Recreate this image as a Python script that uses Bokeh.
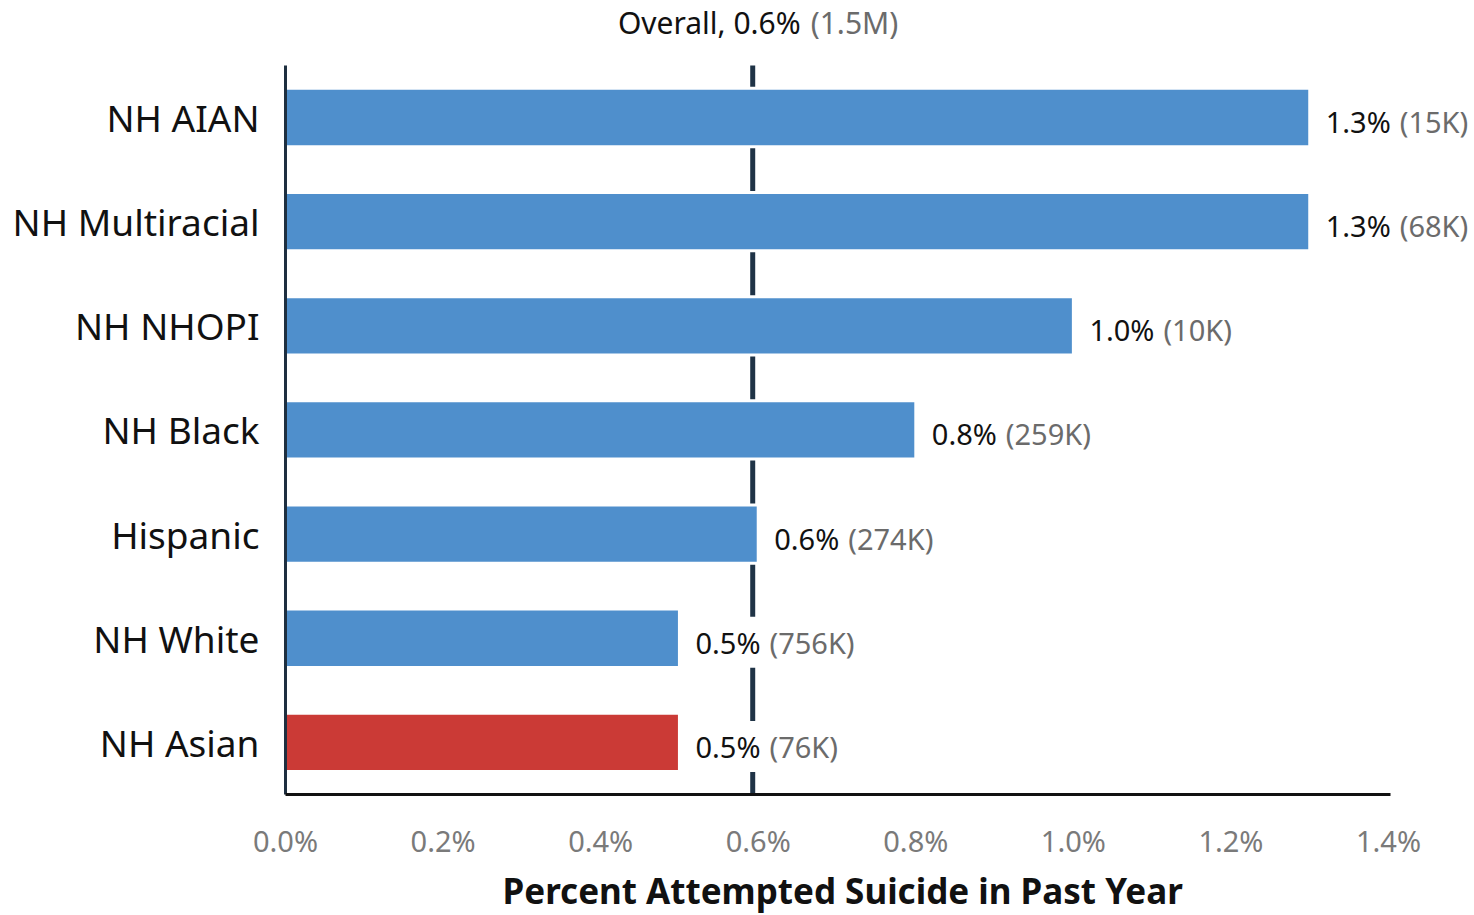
from bokeh.plotting import figure
from bokeh.models import Range1d, FixedTicker, PrintfTickFormatter, ColumnDataSource, Title
from bokeh.core.properties import value
from bokeh.embed import file_html
from bokeh.resources import INLINE

# ---- data ----
categories = ["NH AIAN", "NH Multiracial", "NH NHOPI", "NH Black", "Hispanic", "NH White", "NH Asian"]
percents = [1.3, 1.3, 1.0, 0.8, 0.6, 0.5, 0.5]
pct_labels = ["1.3%", "1.3%", "1.0%", "0.8%", "0.6%", "0.5%", "0.5%"]
count_labels = ["(15K)", "(68K)", "(10K)", "(259K)", "(274K)", "(756K)", "(76K)"]
highlight = ["NH Asian"]
overall_value = 0.593
overall_label = "Overall, 0.6%"
overall_count = "(1.5M)"
x_ticks = [0.0, 0.2, 0.4, 0.6, 0.8, 1.0, 1.2, 1.4]
x_max = 1.4025
x_title = "Percent Attempted Suicide in Past Year"

BLUE = "#4f8fcc"
RED = "#cb3a36"
FONT = "Noto Sans"
NAVY = "#1e2f40"

n = len(categories)
ypos = [n - 1 - i for i in range(n)]          # first category drawn at the top
colors = [RED if c in highlight else BLUE for c in categories]
src = ColumnDataSource(dict(y=ypos, cat=categories, val=percents, pct=pct_labels,
                            cnt=count_labels, color=colors))

# layout helpers (pixels)
W, H = 1474, 915
LEFT = 278            # frame left edge
AXIS_X = 285          # pixel where x = 0
RIGHT_AT_MAX = 1390   # pixel where x = x_max
px_per_unit = (RIGHT_AT_MAX - AXIS_X) / x_max
x_start = -(AXIS_X - LEFT) / px_per_unit
x_end = x_max + (W - RIGHT_AT_MAX) / px_per_unit

BOTTOM = 118          # space below the frame
TOP_GAP = 65          # pixels above the top category band
BAND = (H - BOTTOM - 2 - TOP_GAP) / n
y_start = -0.5 - 2 / BAND
y_end = (n - 0.5) + TOP_GAP / BAND

p = figure(width=W, height=H, output_backend="svg", toolbar_location=None,
           x_range=Range1d(x_start, x_end), y_range=Range1d(y_start, y_end),
           min_border_left=LEFT, min_border_right=0, min_border_top=0,
           min_border_bottom=BOTTOM)
p.outline_line_color = None
p.xgrid.visible = False
p.ygrid.visible = False
p.background_fill_color = "white"

# overall line (behind bars)
p.segment(x0=[overall_value], x1=[overall_value], y0=[-0.5], y1=[n - 0.5],
          line_color="#1f3346", line_width=5, level="underlay")

p.hbar(y="y", right="val", left=0, height=0.56, source=src,
       fill_color="color", line_color="white", line_width=3)

# axis lines drawn as segments
p.segment(x0=[0], x1=[0], y0=[-0.5], y1=[n - 0.5], line_color=NAVY, line_width=3)
p.segment(x0=[0], x1=[x_max], y0=[-0.5], y1=[-0.5], line_color="#111111", line_width=3)

p.text(x="val", y="y", text="pct", source=src, x_offset=10, y_offset=4,
       text_font=value(FONT), text_font_size="29px", text_color="#111111",
       text_align="left", text_baseline="middle",
       background_fill_color="white", padding=6)
p.text(x="val", y="y", text="cnt", source=src, x_offset=90, y_offset=4,
       text_font=value(FONT), text_font_size="29px", text_color="#6b6b6b",
       text_align="left", text_baseline="middle")

# title at the overall line
p.text(x=[overall_value], y=[n - 0.5], text=[overall_label], x_offset=48, y_offset=-43,
       text_font=value(FONT), text_font_size="30px", text_color="#111111",
       text_align="right", text_baseline="middle")
p.text(x=[overall_value], y=[n - 0.5], text=[overall_count], x_offset=58, y_offset=-43,
       text_font=value(FONT), text_font_size="30px", text_color="#6b6b6b",
       text_align="left", text_baseline="middle")

# x axis
xa = p.xaxis[0]
xa.ticker = FixedTicker(ticks=x_ticks)
xa.formatter = PrintfTickFormatter(format="%.1f%%")
xa.major_tick_line_color = None
xa.minor_tick_line_color = None
xa.axis_line_color = None
xa.major_label_text_font = FONT
xa.major_label_text_font_size = "29px"
xa.major_label_text_color = "#7a7a7a"
xa.major_label_standoff = 18

# x axis title, placed under the 0-1.4% span
p.add_layout(Title(text=x_title, align="left", offset=502 - LEFT,
                   text_font=FONT, text_font_size="35px", text_font_style="bold",
                   text_color="#111111", standoff=4), "below")

# y axis (category names)
ya = p.yaxis[0]
ya.ticker = FixedTicker(ticks=ypos)
ya.major_label_overrides = {y: c for y, c in zip(ypos, categories)}
ya.major_tick_line_color = None
ya.minor_tick_line_color = None
ya.axis_line_color = None
ya.major_label_text_font = FONT
ya.major_label_text_font_size = "37px"
ya.major_label_text_color = "#111111"
ya.major_label_standoff = 13

open("out.html", "w").write(file_html(p, INLINE))
